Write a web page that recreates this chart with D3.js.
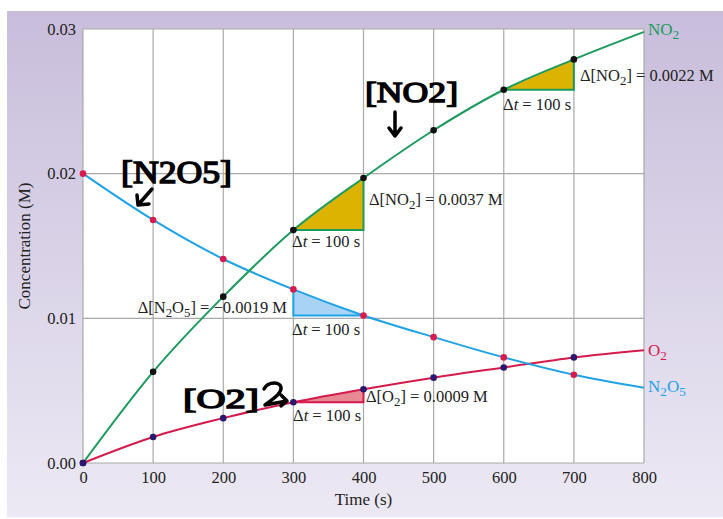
<!DOCTYPE html>
<html>
<head>
<meta charset="utf-8">
<script src="https://cdn.jsdelivr.net/npm/d3@7"></script>
<style>
  body { margin: 0; background: #fff; }
  svg text { font-family: "Liberation Serif", "DejaVu Serif", serif; }
</style>
</head>
<body>
<div id="chart"></div>
<script>
// Concentration vs time for 2 N2O5 -> 4 NO2 + O2

const times = [0, 100, 200, 300, 400, 500, 600, 700, 800]
const n2o5 = [0.0200, 0.0168, 0.0141, 0.0120, 0.0102, 0.0087, 0.0073, 0.0061, 0.0052]
const no2 = [0.0000, 0.0063, 0.0115, 0.0161, 0.0197, 0.0230, 0.0258, 0.0279, 0.0298]
const o2 = [0.0000, 0.0018, 0.0031, 0.0042, 0.0051, 0.0059, 0.0066, 0.0073, 0.0078]
// dots only at measured times (0..700)
const dotTimes = [0, 100, 200, 300, 400, 500, 600, 700]

const xTicks = [0, 100, 200, 300, 400, 500, 600, 700, 800]
const yTicks = [0, 0.01, 0.02, 0.03]

// Δ triangles
const deltas = [
  { key: "no2", t0: 300, t1: 400, label: "Δ[NO_2] = 0.0037 M" },
  { key: "no2", t0: 600, t1: 700, label: "Δ[NO_2] = 0.0022 M" },
  { key: "n2o5", t0: 300, t1: 400, label: "Δ[N_2O_5] = −0.0019 M" },
  { key: "o2", t0: 300, t1: 400, label: "Δ[O_2] = 0.0009 M" }
]

const WIDTH = 723
const HEIGHT = 519
const PLOT = { LEFT: 83, RIGHT: 644, TOP: 29, BOTTOM: 463 }
const FS = 16.5

const svg = d3.select("#chart")
  .append("svg")
  .attr("width", WIDTH)
  .attr("height", HEIGHT)

// lavender panel background
const defs = svg.append("defs")
const grad = defs.append("linearGradient")
  .attr("id", "bg")
  .attr("x1", 0).attr("y1", 0).attr("x2", 0).attr("y2", 1)
grad.append("stop").attr("offset", "0%").attr("stop-color", "#c8bddb")
grad.append("stop").attr("offset", "100%").attr("stop-color", "#ece9f4")

svg.append("rect")
  .attr("x", 7).attr("y", 11)
  .attr("width", WIDTH - 7).attr("height", HEIGHT - 13)
  .attr("fill", "url(#bg)")

const x = d3.scaleLinear().domain([0, 800]).range([PLOT.LEFT, PLOT.RIGHT])
const y = d3.scaleLinear().domain([0, 0.03]).range([PLOT.BOTTOM, PLOT.TOP])

svg.append("rect")
  .attr("x", PLOT.LEFT).attr("y", PLOT.TOP)
  .attr("width", PLOT.RIGHT - PLOT.LEFT)
  .attr("height", PLOT.BOTTOM - PLOT.TOP)
  .attr("fill", "#fff")

// grid
const grid = svg.append("g").attr("stroke", "#a9a9a9").attr("stroke-width", 1.2)
grid.selectAll("line.v").data(xTicks).enter().append("line")
  .attr("x1", d => x(d)).attr("x2", d => x(d))
  .attr("y1", PLOT.TOP).attr("y2", PLOT.BOTTOM)
grid.selectAll("line.h").data(yTicks).enter().append("line")
  .attr("y1", d => y(d)).attr("y2", d => y(d))
  .attr("x1", PLOT.LEFT).attr("x2", PLOT.RIGHT)

// axes (labels only, grid draws the lines)
const xAxis = svg.append("g")
  .attr("transform", `translate(0,${PLOT.BOTTOM})`)
  .call(d3.axisBottom(x).tickValues(xTicks).tickSize(0).tickPadding(8))
const yAxis = svg.append("g")
  .attr("transform", `translate(${PLOT.LEFT},0)`)
  .call(d3.axisLeft(y).tickValues(yTicks).tickSize(0).tickPadding(7)
    .tickFormat(d3.format(".2f")))
;[xAxis, yAxis].forEach(a => {
  a.select(".domain").remove()
  a.selectAll("text")
    .attr("font-family", "Liberation Serif, serif")
    .attr("font-size", FS)
    .attr("fill", "#222")
})

svg.append("text")
  .attr("x", (PLOT.LEFT + PLOT.RIGHT) / 2)
  .attr("y", 505)
  .attr("text-anchor", "middle")
  .attr("font-size", 17)
  .attr("fill", "#222")
  .text("Time (s)")

svg.append("text")
  .attr("transform", `translate(30,${(PLOT.TOP + PLOT.BOTTOM) / 2}) rotate(-90)`)
  .attr("text-anchor", "middle")
  .attr("font-size", 17)
  .attr("fill", "#222")
  .text("Concentration (M)")

const series = {
  n2o5: { values: n2o5, color: "#1fa3e6", fill: "#a8d3f4", dot: "#d81b4e", name: "N_2O_5" },
  no2: { values: no2, color: "#1c9b5d", fill: "#dbb300", dot: "#111", name: "NO_2" },
  o2: { values: o2, color: "#d51a4c", fill: "#e88a93", dot: "#2b1670", name: "O_2" }
}
const val = (key, t) => series[key].values[times.indexOf(t)]

// text with "_" subscripts and italic t after Δ
function richText(sel, str) {
  const parts = str.split(/(_\d|Δt)/).filter(s => s.length)
  parts.forEach(p => {
    if (p[0] === "_") {
      sel.append("tspan")
        .attr("font-size", "0.78em")
        .attr("baseline-shift", "-28%")
        .text(p[1])
    } else if (p === "Δt") {
      sel.append("tspan").text("Δ")
      sel.append("tspan").attr("font-style", "italic").text("t")
    } else {
      sel.append("tspan").text(p)
    }
  })
}

// Δ triangles
deltas.forEach(dl => {
  const s = series[dl.key]
  const v0 = val(dl.key, dl.t0), v1 = val(dl.key, dl.t1)
  const rising = v1 > v0
  const pts = rising
    ? [[x(dl.t0), y(v0)], [x(dl.t1), y(v0)], [x(dl.t1), y(v1)]]
    : [[x(dl.t0), y(v0)], [x(dl.t0), y(v1)], [x(dl.t1), y(v1)]]
  svg.append("path")
    .attr("d", "M" + pts.join("L") + "Z")
    .attr("fill", s.fill)
  svg.append("path")
    .attr("d", "M" + pts.join("L"))
    .attr("fill", "none")
    .attr("stroke", s.color)
    .attr("stroke-width", 2)
})

// curves
const line = d3.line()
  .x((d, i) => x(times[i]))
  .y(d => y(d))
  .curve(d3.curveMonotoneX)

;["o2", "n2o5", "no2"].forEach(k => {
  svg.append("path")
    .datum(series[k].values)
    .attr("d", line)
    .attr("fill", "none")
    .attr("stroke", series[k].color)
    .attr("stroke-width", 2)
})

// dots
;["n2o5", "no2", "o2"].forEach(k => {
  svg.append("g").selectAll("circle")
    .data(dotTimes)
    .enter().append("circle")
    .attr("cx", t => x(t))
    .attr("cy", t => y(val(k, t)))
    .attr("r", 3.3)
    .attr("fill", series[k].dot)
})

// Δ labels
const labelPos = [
  { x: 369, y: 205, dtx: 292, dty: 247 },
  { x: 580, y: 81, dtx: 503, dty: 110 },
  { x: 287, y: 313, anchor: "end", dtx: 292, dty: 335 },
  { x: 366, y: 402, dtx: 293, dty: 421 }
]
deltas.forEach((dl, i) => {
  const p = labelPos[i]
  const t = svg.append("text")
    .attr("x", p.x).attr("y", p.y)
    .attr("font-size", FS)
    .attr("fill", "#222")
    .attr("text-anchor", p.anchor || "start")
  richText(t, dl.label)
  const dt = svg.append("text")
    .attr("x", p.dtx).attr("y", p.dty)
    .attr("font-size", FS)
    .attr("fill", "#222")
  richText(dt, `Δt = ${dl.t1 - dl.t0} s`)
})

// series names at the right end
const nameY = { no2: 35, o2: 356, n2o5: 392 }
Object.keys(nameY).forEach(k => {
  const t = svg.append("text")
    .attr("x", 648).attr("y", nameY[k])
    .attr("font-size", 17)
    .attr("fill", series[k].color)
  richText(t, series[k].name)
})

// handwritten notes
const notes = [
  { text: "[N2O5]", x: 121, y: 183, w: 111, size: 32 },
  { text: "[NO2]", x: 365, y: 102, w: 93, size: 30 },
  { text: "[O2]", x: 183, y: 408, w: 76, size: 28 }
]
notes.forEach(n => {
  svg.append("text")
    .attr("x", n.x).attr("y", n.y)
    .attr("textLength", n.w)
    .attr("lengthAdjust", "spacingAndGlyphs")
    .attr("font-family", "DejaVu Sans, sans-serif")
    .attr("font-size", n.size)
    .attr("fill", "#000")
    .attr("stroke", "#000")
    .attr("stroke-width", 1.5)
    .text(n.text)
})
const arrows = [
  "M152,189 L138,205 M137,195 L138,205 L149,204",
  "M395,112 L395,136 M389,128 L395,136 L401,128",
  "M264,389 C268,381 282,381 281,389 C280,396 268,402 265,405 L287,401 M281,395 L287,401 L281,406"
]
svg.append("g").selectAll("path")
  .data(arrows)
  .enter().append("path")
  .attr("d", d => d)
  .attr("fill", "none")
  .attr("stroke", "#000")
  .attr("stroke-width", 3.5)
  .attr("stroke-linecap", "round")
  .attr("stroke-linejoin", "round")
</script>
</body>
</html>
